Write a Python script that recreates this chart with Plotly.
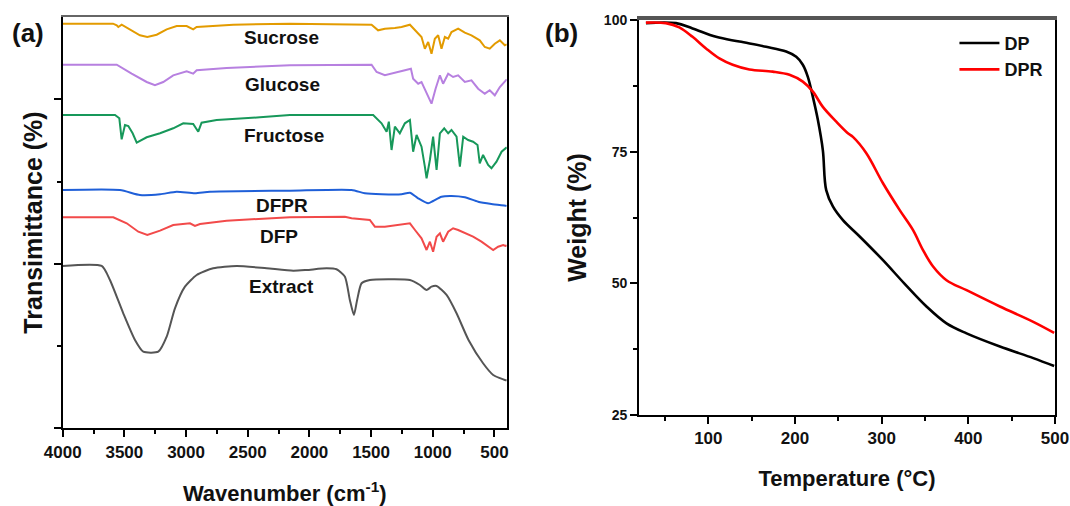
import plotly.graph_objects as go

# ---------------- (a) FTIR spectra ----------------
sucrose_w = [4000, 3592, 3562, 3549, 3522, 3441, 3374, 3314, 3238, 3157, 3076, 2995, 2942, 2914, 2806, 2617, 2158,
             1496, 1443, 1388, 1307, 1253, 1185, 1144, 1091, 1064, 1037, 1010, 983, 956, 929, 902, 875, 848, 794,
             740, 686, 619, 578, 538, 497, 456, 416, 400]
sucrose_t = [404.6, 404.6, 403, 401.3, 403.6, 398, 393, 391.3, 393.6, 399, 402.3, 402.3, 399, 401.3, 402.3, 403.6, 404.6,
             403.6, 398, 399.6, 400.3, 401.3, 403.6, 398, 391.3, 379.6, 386.3, 374.6, 389.6, 393, 379.6, 391.3, 389.6, 396.3, 399.6,
             395.6, 393, 388, 381.3, 379.6, 384.6, 388, 383, 384]

glucose_w = [4000, 3562, 3441, 3319, 3252, 3185, 3104, 2995, 2942, 2914, 2671, 2158, 1496, 1455, 1388, 1334, 1280, 1226,
             1177, 1159, 1118, 1091, 1050, 1010, 977, 942, 916, 875, 835, 794, 740, 686, 632, 578, 538, 497, 456, 410, 400]
glucose_t = [363.6, 363.6, 354.6, 346.3, 343, 346.3, 353, 357, 354.6, 358, 360.3, 363, 363.6, 356.3, 353, 354.6, 356.3, 358,
             359.6, 349.6, 344.6, 346.3, 334.6, 324.6, 339.6, 353, 344.6, 354.6, 351.3, 353, 346.3, 348, 339.6, 334.6, 338, 333, 341.3, 348, 349]

fructose_w = [4000, 3576, 3541, 3522, 3495, 3468, 3433, 3400, 3319, 3211, 3104, 3023, 2942, 2901, 2874, 2752, 2401, 2158,
              1483, 1415, 1374, 1356, 1334, 1307, 1267, 1226, 1185, 1159, 1131, 1091, 1064, 1050, 1023, 997, 969, 942,
              907, 875, 848, 807, 780, 753, 713, 673, 637, 619, 592, 551, 524, 483, 442, 410, 400]
fructose_t = [313.3, 313.3, 310, 289, 303.3, 302.3, 295, 285.6, 291, 295, 300, 305, 304.3, 296.6, 305.6, 308.3, 311, 313.3,
              313.3, 305, 296.6, 306.6, 278.3, 301.6, 295, 305, 308.3, 276.6, 293.3, 281.6, 261.6, 250, 268.3, 291.6, 258.3, 295,
              300, 295, 298.3, 291.6, 261.6, 291.6, 288.3, 286.6, 283.3, 265, 273.3, 263.3, 260, 266.6, 276.6, 280, 281]

dfpr_w = [4000, 3536, 3374, 3211, 3076, 2928, 2806, 2158, 1658, 1550, 1415, 1253, 1185, 1118, 1037, 997, 929, 848, 740,
          632, 524, 410, 400]
dfpr_t = [238.3, 238.3, 233.3, 234, 236.6, 235, 236.6, 237.6, 238.3, 235, 234, 234, 235.6, 230, 225, 227.3, 231.6, 232.3, 231,
          226.6, 224.3, 222.6, 222.4]

dfp_w = [4000, 3590, 3481, 3387, 3314, 3211, 3104, 2968, 2928, 2887, 2671, 2158, 1712, 1658, 1510, 1469, 1388, 1280, 1185,
         1144, 1091, 1050, 1023, 997, 969, 942, 916, 875, 835, 794, 740, 673, 605, 551, 510, 470, 429, 410, 400]
dfp_t = [211, 211, 205, 196.6, 193.3, 197.6, 203.3, 205, 202.3, 204.3, 207.6, 211, 211.6, 210, 208.3, 201.6, 201.6, 203.3, 205,
         198.3, 190, 178.3, 186.6, 176.6, 191.6, 195, 186.6, 196.6, 200, 198.3, 195, 191.6, 186.6, 181.6, 178.3, 181.6, 183.3, 182.3, 183]

extract_w = [4000, 3684, 3617, 3509, 3414, 3347, 3225, 3157, 3090, 3009, 2914, 2780, 2590, 2347, 2131, 2023, 1860, 1780,
             1712, 1672, 1639, 1613, 1577, 1510, 1321, 1185, 1104, 1050, 1010, 969, 888, 807, 710, 592, 510, 416, 400]
extract_t = [162.3, 162.3, 148.3, 115, 88.3, 76.6, 76.6, 91.6, 120, 141.6, 153.3, 160, 162.3, 160, 157.6, 158.3, 160, 159,
             151.6, 128.3, 113.3, 128.3, 145, 148.3, 149, 148.3, 143.3, 138.3, 141.6, 142.3, 133.3, 115, 88.3, 65, 53.3, 48.3, 48]

spectra = [
    ("Sucrose", sucrose_w, sucrose_t, "#E39B00", 2223, 390.3, "linear"),
    ("Glucose", glucose_w, glucose_t, "#B780E0", 2215, 343.3, "linear"),
    ("Fructose", fructose_w, fructose_t, "#17985A", 2207, 292.3, "linear"),
    ("DFPR", dfpr_w, dfpr_t, "#1F5FD8", 2223, 222.3, "spline"),
    ("DFP", dfp_w, dfp_t, "#F24A4A", 2247, 191.3, "linear"),
    ("Extract", extract_w, extract_t, "#555555", 2223, 141.3, "spline"),
]

# ---------------- (b) TGA ----------------
dp_T = [28, 62.7, 81.8, 108.9, 135.8, 166.7, 189.8, 201.4, 209, 214.8, 220.6, 226.4, 232.1, 236, 243.7, 255.3, 274.6,
        301.5, 326, 351.7, 374.8, 397.9, 436.4, 474.9, 499]
dp_W = [99.4, 99.4, 98.4, 96.8, 95.9, 94.9, 94.0, 93.0, 91.5, 89.2, 85.4, 81.0, 75.3, 67.7, 64.6, 62.0, 58.9,
        54.4, 50.0, 45.6, 42.4, 40.5, 38.0, 35.8, 34.3]
dpr_T = [28, 51, 66.5, 81.8, 97.3, 112.7, 128.1, 147.4, 174.3, 193.6, 209, 220.6, 232.1, 247.6, 261, 266.8, 282.3, 301.5,
         320.8, 336.2, 347.7, 359.3, 374.8, 397.9, 436.4, 474.9, 499]
dpr_W = [99.5, 99.4, 98.6, 96.8, 94.6, 92.7, 91.5, 90.6, 90.2, 89.6, 88.3, 86.4, 83.5, 80.7, 78.5, 77.8, 74.7, 69.0,
         63.9, 60.1, 56.3, 53.2, 50.6, 48.7, 45.6, 42.7, 40.6]

fig = go.Figure()
for name, w, t, c, lx, ly, shp in spectra:
    fig.add_trace(go.Scatter(x=w, y=t, mode="lines", line=dict(color=c, width=2, shape=shp, smoothing=0.6),
                             showlegend=False, xaxis="x", yaxis="y", name=name))
    fig.add_annotation(x=lx, y=ly, xref="x", yref="y", text=name, showarrow=False,
                       font=dict(family="Liberation Sans", size=19, color="#111", weight="bold"))

fig.add_trace(go.Scatter(x=dp_T, y=dp_W, mode="lines", name="DP", line=dict(color="black", width=2.6, shape="spline"),
                         xaxis="x2", yaxis="y2"))
fig.add_trace(go.Scatter(x=dpr_T, y=dpr_W, mode="lines", name="DPR", line=dict(color="#FF0000", width=2.6, shape="spline"),
                         xaxis="x2", yaxis="y2"))
# invisible helper traces so the top frame axes are drawn
fig.add_trace(go.Scatter(x=[2000], y=[100], mode="lines", showlegend=False, hoverinfo="skip",
                         xaxis="x3", yaxis="y"))
fig.add_trace(go.Scatter(x=[200], y=[50], mode="lines", showlegend=False, hoverinfo="skip",
                         xaxis="x4", yaxis="y2"))

bold = dict(family="Liberation Sans", color="#111", weight="bold")
axis_common = dict(showgrid=False, zeroline=False, showline=True, linecolor="black", linewidth=2,
                   ticks="outside", tickcolor="black", tickwidth=2, ticklen=7, automargin=False)

fig.update_layout(
    width=1070, height=506, margin=dict(l=0, r=0, t=0, b=0),
    paper_bgcolor="white", plot_bgcolor="white",
    xaxis=dict(axis_common, domain=[0.0586, 0.4736], range=[4000, 400], anchor="y",
               tickvals=[4000, 3500, 3000, 2500, 2000, 1500, 1000, 500],
               minor=dict(dtick=250, tick0=0, ticks="outside", ticklen=4, tickwidth=2, tickcolor="black"),
               tickfont=dict(bold, size=17),
               title=dict(text="Wavenumber (cm<sup>-1</sup>)", font=dict(bold, size=22), standoff=29)),
    xaxis3=dict(domain=[0.0586, 0.4736], range=[4000, 400], anchor="y", overlaying="x", side="top",
                showline=True, linecolor="#666666", linewidth=2, ticks="", showticklabels=False, showgrid=False,
                zeroline=False, automargin=False),
    yaxis=dict(axis_common, domain=[0.1536, 0.967], range=[0, 411.6], anchor="x", mirror=True,
               tickvals=[0, 164.5, 329], showticklabels=False,
               minor=dict(tickvals=[82.25, 246.75], ticks="outside", ticklen=4, tickwidth=2, tickcolor="black"),
               title=dict(text="Transimittance (%)", font=dict(bold, size=25), standoff=4)),
    xaxis2=dict(axis_common, domain=[0.5972, 0.986], range=[20, 500], anchor="y2",
                tickvals=[100, 200, 300, 400, 500],
                minor=dict(dtick=50, tick0=0, ticks="outside", ticklen=4, tickwidth=2, tickcolor="black"),
                tickfont=dict(bold, size=17),
                title=dict(text="Temperature (°C)", font=dict(bold, size=22), standoff=23)),
    xaxis4=dict(domain=[0.5972, 0.986], range=[20, 500], anchor="y2", overlaying="x2", side="top",
                showline=True, linecolor="#555555", linewidth=3.5, ticks="", showticklabels=False, showgrid=False,
                zeroline=False, automargin=False),
    yaxis2=dict(axis_common, domain=[0.1798, 0.9605], range=[25, 100], anchor="x2", mirror=True,
                tickvals=[25, 50, 75, 100],
                minor=dict(dtick=12.5, tick0=25, ticks="outside", ticklen=4, tickwidth=2, tickcolor="black"),
                tickfont=dict(bold, size=14),
                title=dict(text="Weight (%)", font=dict(bold, size=25), standoff=10)),
    legend=dict(x=0.892, y=0.951, xanchor="left", yanchor="top", bgcolor="rgba(0,0,0,0)",
                font=dict(bold, size=18), tracegroupgap=0, itemwidth=40),
    annotations=list(fig.layout.annotations) + [
        dict(x=0.0262, y=0.9348, xref="paper", yref="paper", text="(a)", showarrow=False,
             xanchor="center", yanchor="middle", font=dict(bold, size=26)),
        dict(x=0.5243, y=0.9348, xref="paper", yref="paper", text="(b)", showarrow=False,
             xanchor="center", yanchor="middle", font=dict(bold, size=26)),
    ],
)

fig.write_html("out.html", config={"displayModeBar": False},
               post_script="document.body.style.margin='0px';")
